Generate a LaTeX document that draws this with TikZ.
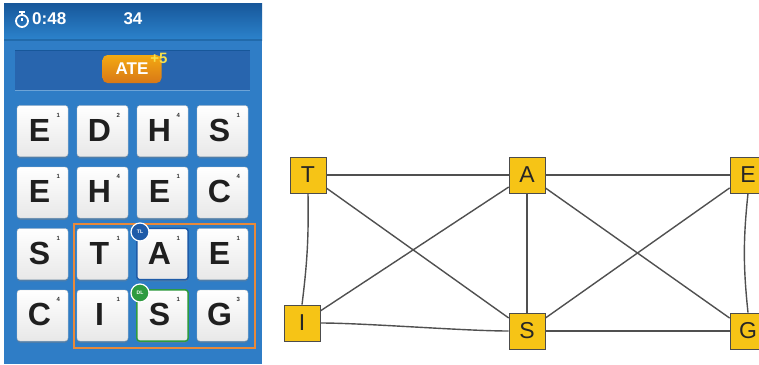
\documentclass[tikz,border=0pt]{standalone}
\usepackage{fontspec}
\setmainfont{Liberation Sans}
\usetikzlibrary{shadows}
\definecolor{hdrA}{HTML}{17579A}
\definecolor{hdrB}{HTML}{2C83CC}
\definecolor{boardbg}{HTML}{2F7DC6}
\definecolor{bandbg}{HTML}{2865AE}
\definecolor{pill}{HTML}{F08519}
\definecolor{bonus}{HTML}{F8E04A}
\definecolor{frame}{HTML}{E8893A}
\definecolor{tlblue}{HTML}{1E5BA8}
\definecolor{dlgreen}{HTML}{2E9B40}
\definecolor{vfill}{HTML}{F6C416}
\definecolor{edgec}{HTML}{505050}
\tikzset{
  tile/.style={rounded corners=3pt, minimum width=51pt, minimum height=51pt,
    top color=white, bottom color=gray!18, draw=gray!45, line width=0.4pt,
    drop shadow={shadow xshift=0pt, shadow yshift=-1.8pt, opacity=0.4}},
  letter/.style={font=\bfseries\fontsize{32}{32}\selectfont, text=black!88},
  score/.style={font=\bfseries\fontsize{6}{6}\selectfont, text=black!80},
  badge/.style={circle, draw=white, line width=1.2pt, minimum size=18pt, inner sep=0pt,
    text=white, font=\bfseries\fontsize{5}{5}\selectfont},
  vertex/.style={draw=black!70, line width=0.7pt, fill=vfill, minimum size=36pt,
    inner sep=0pt, font=\fontsize{23}{23}\selectfont, text=black!85},
  link/.style={draw=edgec, line width=1.4pt}
}
\begin{document}
\begin{tikzpicture}[x=1pt, y=-1pt]
\useasboundingbox (0,0) rectangle (759,364);
\clip (0,0) rectangle (759,364);
\fill[white] (0,0) rectangle (759,364);

% --- game screen ---
\fill[boardbg] (4,3) rectangle (262,364);
\shade[top color=hdrA, bottom color=hdrB] (4,3) rectangle (262,40);
\fill[hdrA!80!black, opacity=0.4] (4,39) rectangle (262,41);
\fill[bandbg] (15,50) rectangle (250,90);
\draw[hdrA, line width=1pt] (15,50) -- (250,50);
\draw[boardbg!70!white, line width=0.6pt] (15,90) -- (250,90);

% timer and score
\draw[white, line width=1.8pt] (22,21) circle (6pt);
\draw[white, line width=1.6pt] (22,15) -- (22,12.5);
\fill[white] (19,10.5) rectangle (25,13);
\draw[white, line width=1.3pt] (22,21) -- (22,17.5);
\node[anchor=west, text=white, font=\bfseries\fontsize{17}{17}\selectfont, inner sep=0pt] (clock) at (32,19) {0:48};
\node[text=white, font=\bfseries\fontsize{17}{17}\selectfont, inner sep=0pt] (points) at (133,19) {34};

% current word
\node[rounded corners=5pt, top color=pill!70!yellow, bottom color=pill!90!black,
  minimum width=59pt, minimum height=28pt, inner sep=0pt, text=white,
  font=\bfseries\fontsize{17}{17}\selectfont] (word) at (132,69) {ATE};
\node[text=bonus, font=\bfseries\fontsize{15}{15}\selectfont, inner sep=0pt] (plus) at (159,58) {+5};

% tiles
\foreach \r/\yy in {1/131,2/192.5,3/254,4/315.5}{
  \foreach \c/\xx in {1/42.5,2/102.5,3/162.5,4/222.5}{
    \node[tile] (t\r\c) at (\xx,\yy) {};
  }
}
\draw[tlblue, line width=1.5pt, rounded corners=3pt] (t33.south west) rectangle (t33.north east);
\draw[dlgreen, line width=1.5pt, rounded corners=3pt] (t43.south west) rectangle (t43.north east);

\foreach \r/\c/\L/\n in {1/1/E/1,1/2/D/2,1/3/H/4,1/4/S/1,
                          2/1/E/1,2/2/H/4,2/3/E/1,2/4/C/4,
                          3/1/S/1,3/2/T/1,3/3/A/1,3/4/E/1,
                          4/1/C/4,4/2/I/1,4/3/S/1,4/4/G/3}{
  \node[letter] at ([xshift=-3pt,yshift=1pt]t\r\c.center) {\L};
  \node[score] at ([xshift=-10pt,yshift=-10pt]t\r\c.north east) {\n};
}

% selected path frame and bonus badges
\draw[frame, line width=2.2pt] (74,224) rectangle (255,348);
\node[badge, fill=tlblue] (tl) at (140,232) {TL};
\node[badge, fill=dlgreen] (dl) at (140,293) {DL};

% --- letter graph ---
\node[vertex] (T) at (308,175) {T};
\node[vertex] (I) at (302,323) {I};
\node[vertex] (A) at (527,175) {A};
\node[vertex] (S) at (527,331) {S};
\node[vertex] (E) at (748,175) {E};
\node[vertex] (G) at (748,331) {G};

\draw[link] (T) -- (A);
\draw[link] (A) -- (E);
\draw[link] (T.south) to[bend left=4] (I.north);
\draw[link] (T) -- (S);
\draw[link] (I) -- (A);
\draw[link] (I.east) to[out=0, in=180, looseness=0.6] (S.west);
\draw[link] (A) -- (S);
\draw[link] (A) -- (G);
\draw[link] (S) -- (E);
\draw[link] (S) -- (G);
\draw[link] (E.south) to[bend right=6] (G.north);
\end{tikzpicture}
\end{document}
